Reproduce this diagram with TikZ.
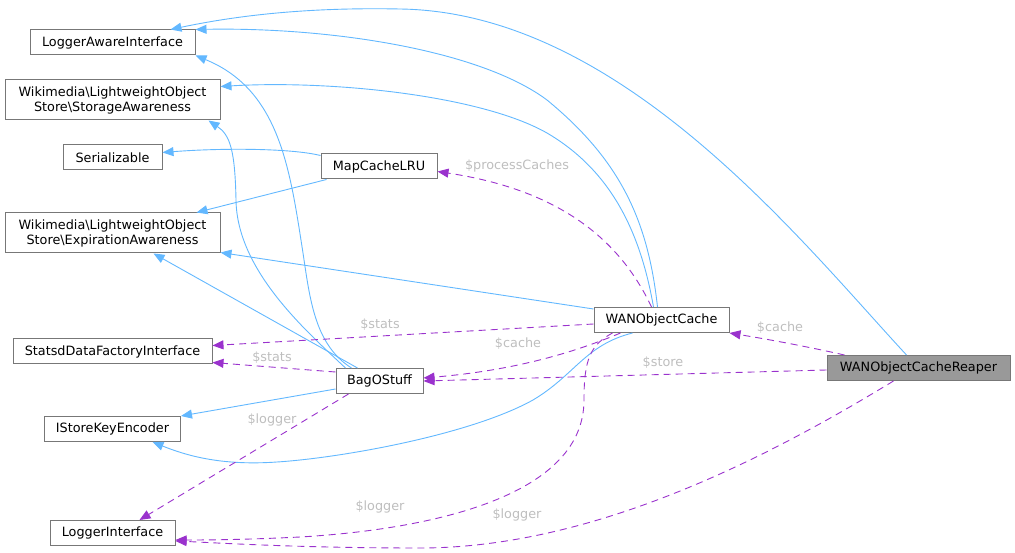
\documentclass[tikz,border=0pt]{standalone}
\usepackage{fontspec}
\setmainfont{DejaVu Sans}
\usetikzlibrary{arrows.meta}
\definecolor{inhblue}{HTML}{63B8FF}
\definecolor{usepurple}{HTML}{9A32CD}
\definecolor{boxgray}{HTML}{777777}
\definecolor{lblgray}{HTML}{BEBEBE}
\definecolor{curfill}{HTML}{999999}
\begin{document}
\begin{tikzpicture}[x=1pt, y=-1pt, font=\fontsize{12.8}{15}\selectfont,
  cls/.style={draw=boxgray, fill=white, line width=1pt, inner sep=0pt, align=center},
  inherit/.style={inhblue, line width=0.9pt, -{Triangle[length=11pt,width=9pt]}},
  uses/.style={usepurple, line width=0.9pt, dash pattern=on 7pt off 5pt, -{Triangle[length=11pt,width=9pt]}},
  lbl/.style={lblgray, inner sep=0pt}]
\useasboundingbox (0,0) rectangle (1015,553);
\node[cls, minimum width=165pt, minimum height=25pt] (lai) at (112.5,42.5){LoggerAwareInterface};
\node[cls, minimum width=215pt, minimum height=40pt] (sa) at (112.5,100){Wikimedia\textbackslash LightweightObject\\Store\textbackslash StorageAwareness};
\node[cls, minimum width=99pt, minimum height=25pt] (ser) at (112.5,157.5){Serializable};
\node[cls, minimum width=215pt, minimum height=40pt] (ea) at (112.5,233){Wikimedia\textbackslash LightweightObject\\Store\textbackslash ExpirationAwareness};
\node[cls, minimum width=199pt, minimum height=25pt] (sdf) at (112.5,351.5){StatsdDataFactoryInterface};
\node[cls, minimum width=136pt, minimum height=25pt] (iske) at (112.5,429){IStoreKeyEncoder};
\node[cls, minimum width=125pt, minimum height=25pt] (li) at (112.5,533){LoggerInterface};
\node[cls, minimum width=116pt, minimum height=25pt] (mclru) at (379,166.5){MapCacheLRU};
\node[cls, minimum width=87pt, minimum height=25pt] (bos) at (379.5,381){BagOStuff};
\node[cls, minimum width=135pt, minimum height=25pt] (woc) at (661.5,320){WANObjectCache};
\node[cls, fill=curfill, minimum width=183pt, minimum height=25pt] (reaper) at (918.5,368){WANObjectCacheReaper};
% inheritance
\draw[inherit] ([xshift=-12pt]reaper.north) .. controls (800,240) and (620,12) .. (400,9) .. controls (300,7) and (230,17) .. ([xshift=-25pt]lai.north east);
\draw[inherit] ([xshift=-4pt]woc.north) .. controls (648,220) and (620,160) .. (547,100) .. controls (480,50) and (330,27) .. (lai.north east);
\draw[inherit] ([xshift=-8pt]woc.north) .. controls (640,230) and (610,170) .. (547,133) .. controls (480,95) and (330,80) .. ([yshift=-7pt]sa.north east);
\draw[inherit] ([yshift=-2pt]woc.north west) -- ([yshift=1pt]ea.south east);
\draw[inherit] ([xshift=-29pt]woc.south) .. controls (585,345) and (575,375) .. (533,400) .. controls (470,435) and (340,458) .. (277,462) .. controls (220,466) and (185,455) .. ([xshift=40pt]iske.south);
\draw[inherit] ([yshift=-2pt]mclru.north west) .. controls (290,148) and (220,148) .. ([yshift=5pt]ser.east);
\draw[inherit] ([xshift=6pt]mclru.south west) -- ([xshift=-24pt]ea.north east);
\draw[inherit] ([xshift=16pt]bos.north west) .. controls (315,345) and (310,300) .. (303,253) .. controls (290,170) and (280,90) .. (lai.south east);
\draw[inherit] ([xshift=10pt]bos.north west) .. controls (305,330) and (237,270) .. (236,200) .. controls (235,150) and (230,135) .. ([xshift=-12pt]sa.south east);
\draw[inherit] ([xshift=22pt]bos.north west) -- ([xshift=41pt]ea.south);
\draw[inherit] ([yshift=-8pt]bos.west) -- (iske.north east);
% members
\draw[uses] ([xshift=-10pt]woc.north) .. controls (620,240) and (560,190) .. ([yshift=-5pt]mclru.east);
\draw[uses] ([yshift=-4pt]woc.west) -- ([yshift=6pt]sdf.east);
\draw[uses] ([yshift=9pt]bos.west) -- ([yshift=-11pt]sdf.east);
\draw[uses] ([xshift=-41pt]woc.south) .. controls (580,350) and (520,370) .. ([yshift=3pt]bos.east);
\draw[uses] ([yshift=-2pt]reaper.west) -- (bos.east);
\draw[uses] ([xshift=18pt]reaper.north west) .. controls (800,345) and (760,338) .. (woc.south east);
\draw[uses] ([xshift=13pt]bos.south west) -- ([xshift=27pt]li.north);
\draw[uses] ([xshift=-49pt]woc.south) .. controls (590,345) and (584,360) .. (584,400) .. controls (584,500) and (420,530) .. (300,537) .. controls (240,540) and (200,540) .. ([yshift=-7pt]li.east);
\draw[uses] ([xshift=-25pt]reaper.south) .. controls (780,450) and (600,548) .. (420,548) .. controls (300,548) and (220,543) .. ([yshift=-8pt]li.east);
% labels
\node[lbl] (lproc) at (517,166){\$processCaches};
\node[lbl] (lstatsw) at (380,325){\$stats};
\node[lbl] (lstatsb) at (272,358){\$stats};
\node[lbl] (lcachew) at (518,344){\$cache};
\node[lbl] (lstore) at (663,363){\$store};
\node[lbl] (lcacher) at (780,328){\$cache};
\node[lbl] (lloggerb) at (272,420){\$logger};
\node[lbl] (lloggerw) at (380,507){\$logger};
\node[lbl] (lloggerr) at (517,515){\$logger};
\end{tikzpicture}
\end{document}
